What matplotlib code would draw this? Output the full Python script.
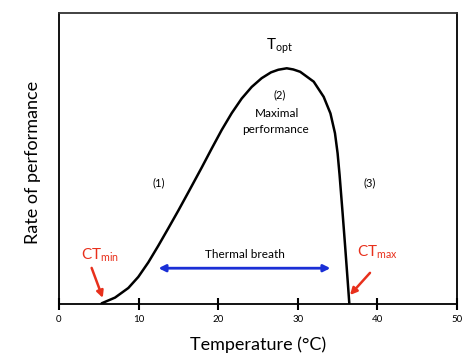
import matplotlib
matplotlib.use("Agg")
import matplotlib.pyplot as plt

plt.rcParams['font.family'] = ['Lato', 'DejaVu Sans']
plt.rcParams['mathtext.fontset'] = 'custom'
plt.rcParams['mathtext.rm'] = 'Lato'
plt.rcParams['mathtext.it'] = 'Lato:italic'

# Thermal performance curve
temperature = [5.36, 7.04, 8.71, 9.96, 11.22, 12.47, 13.73, 14.99, 16.33, 17.93,
               19.18, 20.44, 21.70, 22.95, 24.21, 25.46, 26.63, 27.55, 28.61,
               29.43, 30.30, 32.00, 33.25, 34.10, 34.67, 35.00, 35.25, 35.63,
               35.95, 36.26, 36.47]
performance = [0.24, 2.2, 5.5, 9.3, 14.3, 20.0, 26.0, 32.1, 38.8, 46.9,
               53.4, 59.8, 65.6, 70.6, 74.6, 77.6, 79.6, 80.5, 81.0,
               80.6, 79.8, 76.4, 71.2, 65.5, 58.7, 51.8, 44.3, 31.2,
               19.7, 8.2, 0.24]
x_ticks = [0, 10, 20, 30, 40, 50]
ct_min = 5.4
ct_max = 36.5
breadth_from = 12.5
breadth_to = 34.1

fig = plt.figure(figsize=(4.74, 3.59), dpi=100)
ax = fig.add_axes([59/474, 1-304/359, (457-59)/474, (304-13)/359])
ax.set_xlim(0, 50)
ax.set_ylim(0, 100)

ax.plot(temperature, performance, color='black', lw=1.8,
        solid_capstyle='round', solid_joinstyle='round')

ax.set_xticks(x_ticks)
ax.set_xticklabels([str(t) for t in x_ticks], fontsize=7)
ax.set_yticks([])
ax.tick_params(axis='x', direction='inout', length=9, width=1.5, pad=3.5)
for s in ax.spines.values():
    s.set_linewidth(1.3)
    s.set_color('black')
ax.spines['top'].set_color('#333333')

red = '#e8301c'
blue = '#1a2fd6'

ax.text(27.76, 87.3, r'T$_{\mathrm{opt}}$', fontsize=11, ha='center', va='baseline')
ax.text(27.76, 71.8, '(2)', fontsize=8, ha='center', va='center')
ax.text(27.35, 65.3, 'Maximal', fontsize=8.5, ha='center', va='center')
ax.text(27.26, 60.1, 'performance', fontsize=8.5, ha='center', va='center')
ax.text(12.56, 41.5, '(1)', fontsize=8, ha='center', va='center')
ax.text(39.07, 41.6, '(3)', fontsize=8, ha='center', va='center')
ax.text(23.37, 17.1, 'Thermal breath', fontsize=8.5, ha='center', va='center')

ax.annotate('', xy=(breadth_to, 12.3), xytext=(breadth_from, 12.3),
            arrowprops=dict(arrowstyle='<|-|>', color=blue, lw=2,
                            mutation_scale=10, shrinkA=0, shrinkB=0))

ax.text(5.2, 15.4, r'CT$_{\mathrm{min}}$', fontsize=11, color=red, ha='center', va='baseline')
ax.text(40.0, 16.3, r'CT$_{\mathrm{max}}$', fontsize=11, color=red, ha='center', va='baseline')
ax.annotate('', xy=(ct_min + 0.1, 2.1), xytext=(4.1, 12.4),
            arrowprops=dict(arrowstyle='-|>', color=red, lw=1.8,
                            mutation_scale=10, shrinkA=0, shrinkB=0))
ax.annotate('', xy=(ct_max + 0.06, 3.1), xytext=(39.07, 10.7),
            arrowprops=dict(arrowstyle='-|>', color=red, lw=1.8,
                            mutation_scale=10, shrinkA=0, shrinkB=0))

fig.text(258/474, 1-345/359, 'Temperature (°C)', fontsize=13, ha='center', va='center')
fig.text(33/474, 1-162/359, 'Rate of performance', fontsize=13, ha='center', va='center', rotation=90)

fig.savefig('out.png', dpi=100)
